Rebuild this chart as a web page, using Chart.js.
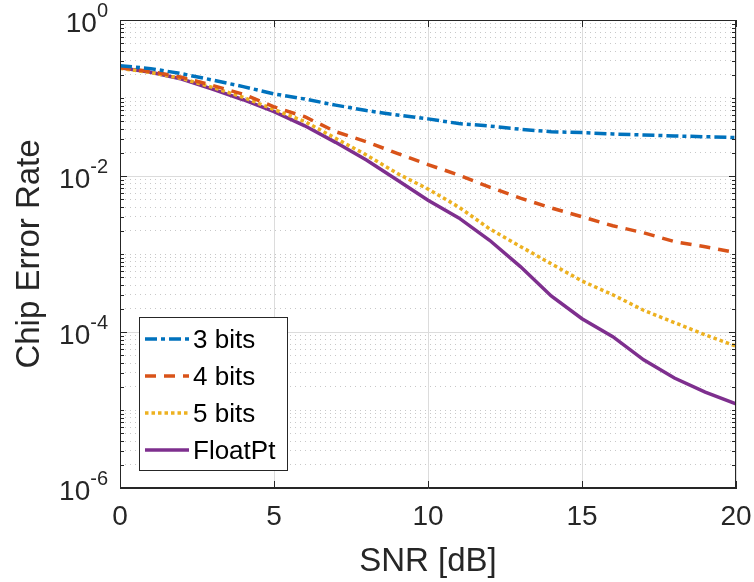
<!DOCTYPE html>
<html>
<head>
<meta charset="utf-8">
<title>Chip Error Rate vs SNR</title>
<script src="https://cdn.jsdelivr.net/npm/chart.js@4.4.1/dist/chart.umd.min.js"></script>
<style>
    html, body { margin: 0; padding: 0; background: #ffffff; }
    #wrap { width: 754px; height: 582px; }
</style>
</head>
<body>
<div id="wrap"><canvas id="cer" width="754" height="582"></canvas></div>
<script>
'use strict';

/* ── data ──────────────────────────────────────────────────────────────── */

const snrDb = [0, 1, 2, 3, 4, 5, 6, 7, 8, 9, 10, 11, 12, 13, 14, 15, 16, 17, 18, 19, 20];

const cer3Bits = [0.26, 0.238, 0.205, 0.17, 0.14, 0.113, 0.097, 0.081, 0.069, 0.0605, 0.054,
    0.047, 0.0437, 0.0397, 0.037, 0.036, 0.0346, 0.0336, 0.0326, 0.0319, 0.031];
const cer4Bits = [0.245, 0.218, 0.185, 0.145, 0.112, 0.077, 0.0575, 0.037, 0.0275, 0.0195, 0.014,
    0.0103, 0.0072, 0.0052, 0.0039, 0.003, 0.0023, 0.00187, 0.00144, 0.00124, 0.00104];
const cer5Bits = [0.24, 0.212, 0.178, 0.137, 0.102, 0.071, 0.05, 0.0304, 0.0186, 0.0108, 0.0068,
    0.004, 0.0021, 0.00125, 0.00075, 0.00045, 0.0003, 0.00019, 0.000132, 0.000092, 0.000066];
const cerFloat = [0.245, 0.214, 0.175, 0.13, 0.095, 0.067, 0.044, 0.027, 0.016, 0.0089, 0.0049,
    0.0029, 0.0015, 0.00069, 0.00029, 0.000148, 0.000087, 0.000044, 0.0000257, 0.000017, 0.000012];

const seriesLabels = ['3 bits', '4 bits', '5 bits', 'FloatPt'];
const xTickValues = [0, 5, 10, 15, 20];
const yMajorExps = [0, -2, -4, -6];

/* ── look ──────────────────────────────────────────────────────────────── */

const FONT = "'Liberation Sans', Arial, Helvetica, sans-serif";
const AXIS_COLOR = '#262626';
const AREA = { left: 120, top: 20, right: 736, bottom: 488 };

// minor grid positions: 2..9 x every decade, plus the odd decades
const yMinorTicks = [];
for (let e = -6; e < 0; e++) {
    for (let m = 1; m <= 9; m++) {
        if (m === 1 && e % 2 === 0) continue;
        yMinorTicks.push(m * Math.pow(10, e));
    }
}

const toPoints = ys => ys.map((y, i) => ({ x: snrDb[i], y }));

/* ── plugin: box, inward ticks, 10^n labels and inset legend ──────────── */

const matlabAxes = {
    id: 'matlabAxes',
    afterDatasetsDraw(chart) {
        const ctx = chart.ctx;
        const { left, right, top, bottom } = chart.chartArea;
        const xs = chart.scales.x;
        const ys = chart.scales.y;

        ctx.save();
        ctx.strokeStyle = AXIS_COLOR;
        ctx.lineWidth = 1;

        // box
        ctx.strokeRect(left + 0.5, top + 0.5, right - left - 1, bottom - top - 1);

        // tick marks pointing inwards
        ctx.beginPath();
        xTickValues.forEach(v => {
            const px = Math.round(xs.getPixelForValue(v)) + 0.5;
            ctx.moveTo(px, bottom); ctx.lineTo(px, bottom - 7);
            ctx.moveTo(px, top); ctx.lineTo(px, top + 7);
        });
        yMajorExps.forEach(e => {
            const py = Math.round(ys.getPixelForValue(Math.pow(10, e))) + 0.5;
            ctx.moveTo(left, py); ctx.lineTo(left + 7, py);
            ctx.moveTo(right, py); ctx.lineTo(right - 7, py);
        });
        yMinorTicks.forEach(v => {
            const py = Math.round(ys.getPixelForValue(v)) + 0.5;
            ctx.moveTo(left, py); ctx.lineTo(left + 4, py);
            ctx.moveTo(right, py); ctx.lineTo(right - 4, py);
        });
        ctx.stroke();

        // y tick labels: "10" with a raised exponent
        ctx.fillStyle = AXIS_COLOR;
        ctx.textBaseline = 'alphabetic';
        ctx.textAlign = 'left';
        yMajorExps.forEach(e => {
            const py = ys.getPixelForValue(Math.pow(10, e));
            const sup = String(e);
            ctx.font = '28px ' + FONT;
            const wBase = ctx.measureText('10').width;
            ctx.font = '20px ' + FONT;
            const wSup = ctx.measureText(sup).width;
            const x0 = left - 12 - wBase - wSup;
            ctx.font = '28px ' + FONT;
            ctx.fillText('10', x0, py + 12);
            ctx.font = '20px ' + FONT;
            ctx.fillText(sup, x0 + wBase, py - 3);
        });

        // legend
        const lg = { x: 139, y: 317, w: 148, h: 153, row: 37 };
        ctx.fillStyle = '#ffffff';
        ctx.fillRect(lg.x, lg.y, lg.w, lg.h);
        ctx.strokeStyle = AXIS_COLOR;
        ctx.strokeRect(lg.x + 0.5, lg.y + 0.5, lg.w, lg.h);
        chart.data.datasets.forEach((ds, i) => {
            const cy = lg.y + 22 + i * lg.row;
            ctx.save();
            ctx.strokeStyle = ds.borderColor;
            ctx.lineWidth = ds.borderWidth;
            ctx.setLineDash(ds.borderDash || []);
            ctx.beginPath();
            ctx.moveTo(lg.x + 6, cy);
            ctx.lineTo(lg.x + 50, cy);
            ctx.stroke();
            ctx.restore();
            ctx.fillStyle = '#000000';
            ctx.font = '26px ' + FONT;
            ctx.textBaseline = 'middle';
            ctx.fillText(ds.label, lg.x + 54, cy + 2);
        });
        ctx.restore();
    },
};

/* ── chart ─────────────────────────────────────────────────────────────── */

const line = (label, data, color, dash) => ({
    label,
    data: toPoints(data),
    borderColor: color,
    backgroundColor: color,
    borderWidth: 3.5,
    borderDash: dash,
    pointRadius: 0,
    tension: 0,
    fill: false,
});

const ctx = document.getElementById('cer').getContext('2d');
new Chart(ctx, {
    type: 'line',
    data: {
        datasets: [
            line(seriesLabels[0], cer3Bits, '#0072BD', [12, 4, 4, 4]),
            line(seriesLabels[1], cer4Bits, '#D95319', [11, 8]),
            line(seriesLabels[2], cer5Bits, '#EDB120', [3.5, 3]),
            line(seriesLabels[3], cerFloat, '#7E2F8E', []),
        ],
    },
    options: {
        responsive: false,
        animation: false,
        devicePixelRatio: 1,
        layout: { padding: { left: 0, top: AREA.top, right: 754 - AREA.right, bottom: 0 } },
        plugins: {
            legend: { display: false },
            tooltip: { enabled: false },
        },
        scales: {
            x: {
                type: 'linear',
                min: 0,
                max: 20,
                afterBuildTicks: s => { s.ticks = xTickValues.map(v => ({ value: v })); },
                afterFit: s => {
                    s.height = 582 - AREA.bottom;
                    s.paddingLeft = 0;
                    s.paddingRight = 0;
                },
                ticks: { font: { family: FONT, size: 28 }, color: AXIS_COLOR, padding: 12, maxRotation: 0 },
                grid: { color: '#dcdcdc', lineWidth: 1, drawTicks: false },
                border: { color: AXIS_COLOR, width: 1 },
                title: {
                    display: true,
                    text: 'SNR [dB]',
                    color: AXIS_COLOR,
                    font: { family: FONT, size: 33 },
                    padding: { top: 0, bottom: 0 },
                },
            },
            y: {
                type: 'logarithmic',
                position: 'left',
                min: 1e-6,
                max: 1,
                afterBuildTicks: s => { s.ticks = yMajorExps.map(e => ({ value: Math.pow(10, e) })); },
                afterFit: s => { s.width = AREA.left; },
                ticks: { display: false },
                grid: { color: '#dcdcdc', lineWidth: 1, drawTicks: false },
                border: { color: AXIS_COLOR, width: 1 },
                title: {
                    display: true,
                    text: 'Chip Error Rate',
                    color: AXIS_COLOR,
                    font: { family: FONT, size: 33 },
                    padding: { top: 10, bottom: 0 },
                },
            },
            yMinor: {
                type: 'logarithmic',
                position: 'left',
                min: 1e-6,
                max: 1,
                afterBuildTicks: s => { s.ticks = yMinorTicks.map(v => ({ value: v })); },
                afterFit: s => { s.width = 0; },
                ticks: { display: false },
                grid: { color: '#c8c8c8', lineWidth: 1, drawTicks: false },
                border: { display: false, dash: [1, 4] },
            },
        },
    },
    plugins: [matlabAxes],
});
</script>
</body>
</html>
